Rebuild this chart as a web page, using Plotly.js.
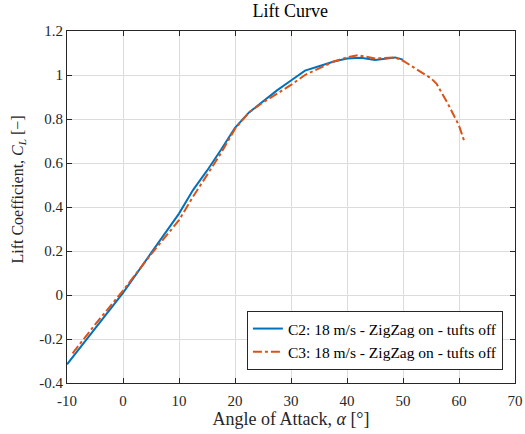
<!DOCTYPE html>
<html>
<head>
<meta charset="utf-8">
<script src="https://cdn.plot.ly/plotly-3.0.1.min.js"></script>
<style>html,body{margin:0;padding:0;background:#fff;}#plot{width:525px;height:434px;}</style>
</head>
<body>
<div id="plot"></div>
<script>
var alphaC2 = [-10, -5, 0, 5, 10, 12.5, 15, 17.5, 20, 22.5, 25, 27.5, 30, 32.5, 35, 37.5, 40, 42.5, 45, 47.5, 48.6, 50];
var clC2 = [-0.315, -0.15, 0.01, 0.19, 0.37, 0.477, 0.565, 0.66, 0.76, 0.83, 0.88, 0.93, 0.975, 1.02, 1.04, 1.06, 1.075, 1.078, 1.068, 1.075, 1.08, 1.07];
var alphaC3 = [-9, -5, 0, 5, 10, 12.5, 15, 17.5, 20, 22.5, 25, 27.5, 30, 32.5, 35, 37.5, 40, 42, 45, 48.5, 50, 52.5, 55, 56, 58, 60, 61];
var clC3 = [-0.265, -0.135, 0.02, 0.185, 0.34, 0.447, 0.545, 0.645, 0.755, 0.83, 0.875, 0.915, 0.955, 1.0, 1.03, 1.06, 1.08, 1.09, 1.075, 1.08, 1.065, 1.025, 0.985, 0.96, 0.87, 0.77, 0.695];
var xTicks = [-10, 0, 10, 20, 30, 40, 50, 60, 70];
var xTickText = ["-10", "0", "10", "20", "30", "40", "50", "60", "70"];
var yTicks = [-0.4, -0.2, 0, 0.2, 0.4, 0.6, 0.8, 1, 1.2];
var yTickText = ["-0.4", "-0.2", "0", "0.2", "0.4", "0.6", "0.8", "1", "1.2"];
var seriesNames = ["C2: 18 m/s - ZigZag on - tufts off", "C3: 18 m/s - ZigZag on - tufts off"];
var titleText = "Lift Curve";
var xLabel = "Angle of Attack, <i>α</i> [°]";
var yLabel = "Lift Coefficient, <i>C</i><sub><i>L</i></sub> [−]";

var font = "Liberation Serif, DejaVu Serif, serif";
var traces = [
  {x: alphaC2, y: clC2, type: "scatter", mode: "lines", name: seriesNames[0],
   line: {color: "#0072BD", width: 2}},
  {x: alphaC3, y: clC3, type: "scatter", mode: "lines", name: seriesNames[1],
   line: {color: "#D95319", width: 2, dash: "dashdot"}}
];
var axisCommon = {
  showline: true, linecolor: "#262626", linewidth: 1, mirror: "allticks",
  ticks: "inside", ticklen: 5, tickcolor: "#262626",
  showgrid: true, gridcolor: "#dcdcdc", gridwidth: 1, zeroline: false,
  tickfont: {family: font, size: 15, color: "#262626"}
};
var layout = {
  width: 525, height: 434,
  margin: {l: 67, r: 10, t: 31, b: 51},
  paper_bgcolor: "#fff", plot_bgcolor: "#fff",
  font: {family: font, color: "#262626"},
  title: {text: titleText, font: {family: font, size: 18, color: "#000"}, x: 0.553, xanchor: "center", y: 0.99, yanchor: "top"},
  xaxis: Object.assign({}, axisCommon, {
    range: [-10, 70], tickvals: xTicks, ticktext: xTickText, ticklabelstandoff: 4,
    title: {text: xLabel, font: {family: font, size: 18, color: "#262626"}, standoff: 4}
  }),
  yaxis: Object.assign({}, axisCommon, {
    range: [-0.4, 1.2], tickvals: yTicks, ticktext: yTickText
  }),
  annotations: [{
    text: yLabel, textangle: -90, showarrow: false,
    xref: "paper", yref: "paper", x: -0.109, y: 0.55, xanchor: "center", yanchor: "middle",
    font: {family: font, size: 16, color: "#262626"}
  }],
  showlegend: true,
  legend: {x: 0.973, xanchor: "right", y: 0.037, yanchor: "bottom",
    bgcolor: "#fff", bordercolor: "#262626", borderwidth: 1,
    font: {family: font, size: 15.5, color: "#000"}, tracegroupgap: 0, itemwidth: 30}
};
Plotly.newPlot("plot", traces, layout, {displayModeBar: false, staticPlot: true});
</script>
</body>
</html>
